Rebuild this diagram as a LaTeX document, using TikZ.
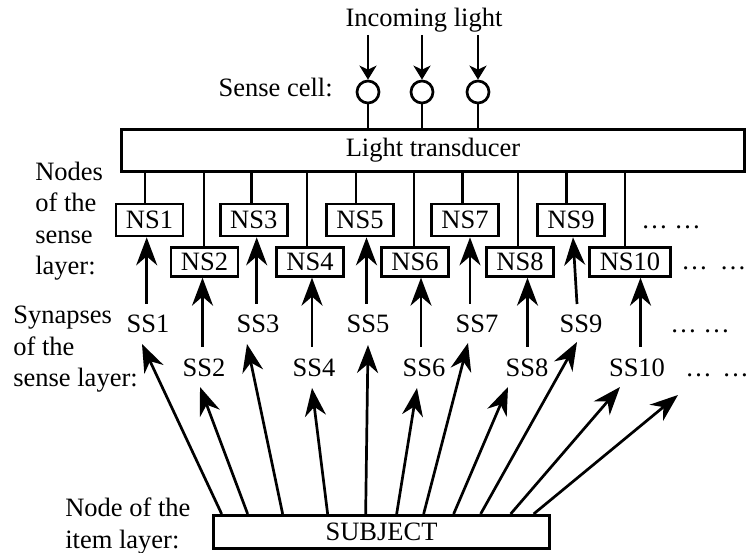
\documentclass[tikz,border=0pt]{standalone}
\usepackage{fontspec}
\setmainfont{Liberation Serif}
\usetikzlibrary{arrows.meta,calc}
\begin{document}
\begin{tikzpicture}[x=1pt,y=-1pt,line width=2.7pt,
  every node/.style={font=\fontsize{26.5}{31}\selectfont},
  big/.style={-{Stealth[length=28pt,width=21pt,inset=9pt]}},
  small/.style={-{Stealth[length=14pt,width=17pt,inset=4pt]}},
  lbl/.style={inner sep=0pt,anchor=base},
  cell/.style={draw,circle,minimum size=22pt,inner sep=0pt},
  nsa/.style={draw,inner xsep=10pt,inner ysep=0pt,minimum height=32pt},
  nsb/.style={draw,inner xsep=10pt,inner ysep=0pt,minimum height=28.6pt},
  bigbox/.style={draw,inner sep=0pt}]
\useasboundingbox (0,0) rectangle (748,553);

% incoming light and sense cells
\node[lbl] (inc) at (424,27) {Incoming light};
\coordinate (lightin) at (424,35);
\node[lbl,anchor=base east] (sc) at (334,97) {Sense cell:};
\node[cell] (c1) at (368,92) {};
\node[cell] (c2) at (422,92) {};
\node[cell] (c3) at (478,92) {};
\node[bigbox,minimum width=623pt,minimum height=42.5pt] (lt) at (433,150.5) {Light transducer};
\foreach \c in {c1,c2,c3}{
  \draw[small] (lightin -| \c) -- (\c.north);
  \draw (\c.south) -- (\c.south |- lt.north);
}

% left labels
\node[lbl,anchor=base west] (n1) at (34,181) {Nodes};
\node[lbl,anchor=base west] (n2) at (34,212) {of the};
\node[lbl,anchor=base west] (n3) at (34,243.5) {sense};
\node[lbl,anchor=base west] (n4) at (34,275) {layer:};
\node[lbl,anchor=base west] (y1) at (12,323.5) {Synapses};
\node[lbl,anchor=base west] (y2) at (12,356) {of the};
\node[lbl,anchor=base west] (y3) at (12,387) {sense layer:};
\node[lbl,anchor=base west] (i1) at (64,517) {Node of the};
\node[lbl,anchor=base west] (i2) at (64,548) {item layer:};

% nodes of the sense layer
\node[nsa] (ns1) at (149.5,220) {NS1};
\node[nsa] (ns3) at (253.8,220) {NS3};
\node[nsa] (ns5) at (360,220) {NS5};
\node[nsa] (ns7) at (465,220) {NS7};
\node[nsa] (ns9) at (571,220) {NS9};
\node[nsb] (ns2) at (204.5,262) {NS2};
\node[nsb] (ns4) at (310,262) {NS4};
\node[nsb] (ns6) at (415,262) {NS6};
\node[nsb] (ns8) at (520,262) {NS8};
\node[nsb] (ns10) at (630,262) {NS10};
\node[lbl,anchor=base west] (nsd1) at (640,228.8) {… …};
\node[lbl,anchor=base west] (nsd2) at (680,270) {…\hspace{0.45em}…};

\foreach \x/\n in {145/ns1,251.7/ns3,356/ns5,462.7/ns7,566.7/ns9,204/ns2,307/ns4,414/ns6,518/ns8,625/ns10}
  \draw (\x,0 |- lt.south) -- (\x,0 |- \n.north);

% synapses
\node[lbl] (ss1) at (148,333) {SS1};
\node[lbl] (ss3) at (258,333) {SS3};
\node[lbl] (ss5) at (368,333) {SS5};
\node[lbl] (ss7) at (477,333) {SS7};
\node[lbl] (ss9) at (581,333) {SS9};
\node[lbl] (ss2) at (204,377) {SS2};
\node[lbl] (ss4) at (314,377) {SS4};
\node[lbl] (ss6) at (424,377) {SS6};
\node[lbl] (ss8) at (527,377) {SS8};
\node[lbl] (ss10) at (637,377) {SS10};
\node[lbl,anchor=base west] (ssd1) at (669,333) {… …};
\node[lbl,anchor=base west] (ssd2) at (684,377) {…\hspace{0.4em}…};

\foreach \s/\dx/\dy in {1/-1.3/-29,3/-1.3/-29,5/-1.5/-29,7/-7/-29,2/-1.5/-30,4/-2/-30,6/-3/-30,8/0.5/-30,10/3.5/-30}{
  \coordinate (u\s) at ($(ss\s.base)+(\dx,\dy)$);
  \draw[big] (u\s) -- (u\s |- ns\s.south);
}
\coordinate (u9) at ($(ss9.base)+(-4,-29)$);
\draw[big] (u9) -- ($(u9 |- ns9.south)+(-4,0)$);

% subject
\node[bigbox,minimum width=336.4pt,minimum height=33.4pt] (subj) at (381.5,532) {SUBJECT};
\foreach \ox/\t/\tx/\ty in {9.7/ss1/-6/11,35.7/ss2/-4/10,70.7/ss3/-11/11,115.7/ss4/-2/11,153.7/ss5/0/12,184.7/ss6/-7/11,211.7/ss7/-9/10,241.7/ss8/-19/10,268.7/ss9/-4/9,298.7/ss10/-17/10}
  \draw[big] ($(subj.north west)+(\ox,0)$) -- ($(\t.base)+(\tx,\ty)$);
\draw[big] ($(subj.north west)+(321.7,0)$) -- ($(ssd2.base west)+(-6,18)$);
\end{tikzpicture}
\end{document}
